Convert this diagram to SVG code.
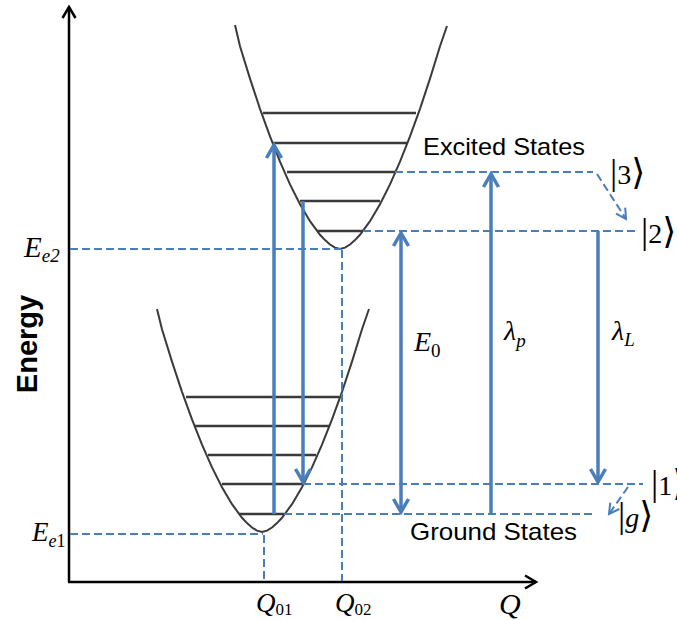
<svg xmlns="http://www.w3.org/2000/svg" width="677" height="620" viewBox="0 0 677 620">
<style>
.curve{fill:none;stroke:#3a3a3a;stroke-width:2}
.lvl{stroke:#3a3a3a;stroke-width:2.5}
.axis{stroke:#000;stroke-width:2.5;fill:none}
.dash{stroke:#4a7ebb;stroke-width:2;stroke-dasharray:8 4;fill:none}
.arr{stroke:#4a7ebb;stroke-width:3.5;fill:none}
.math{font-family:"Liberation Serif","DejaVu Serif",serif;font-style:italic;fill:#000}
.up{font-style:normal}
.lab{font-family:"Liberation Sans",Arial,sans-serif;font-size:24px;fill:#000}
.ket{font-family:"Liberation Serif","DejaVu Serif",serif;font-size:28px;fill:#000}
.br{font-size:36px}
</style>
<defs>
<marker id="ha" markerUnits="userSpaceOnUse" markerWidth="30" markerHeight="30" viewBox="-20 -15 30 30" refX="0" refY="0" orient="auto-start-reverse">
<path d="M-13,-7.5 L0,0 L-13,7.5" fill="none" stroke="#4a7ebb" stroke-width="3.5"/>
</marker>
<marker id="hd" markerUnits="userSpaceOnUse" markerWidth="24" markerHeight="24" viewBox="-16 -12 24 24" refX="0" refY="0" orient="auto">
<path d="M-10,-5.5 L0,0 L-10,5.5" fill="none" stroke="#4a7ebb" stroke-width="2"/>
</marker>
<marker id="hk" markerUnits="userSpaceOnUse" markerWidth="24" markerHeight="24" viewBox="-16 -12 24 24" refX="0" refY="0" orient="auto">
<path d="M-11,-6.5 L0,0 L-11,6.5" fill="none" stroke="#000" stroke-width="2.5"/>
</marker>
</defs>

<g id="axes">
<path class="axis" d="M69,582 L69,7" marker-end="url(#hk)"/>
<path class="axis" d="M68,582 L536,582" marker-end="url(#hk)"/>
</g>

<g id="ground-well">
<path class="curve" d="M157,309 L162,329.2 L172,361.6 L182,391.8 L192,419.4 L202,444.7 L212,467.4 L222,487.3 L232,504.2 L242,517.8 L247,523.1 L252,527.5 L257,530.6 L262,532 L267,530.6 L272,527.5 L277,523.1 L282,517.8 L292,504.2 L302,487.3 L312,467.4 L322,444.7 L332,419.4 L342,391.8 L352,361.6 L362,329.2 L369,309"/>
<line class="lvl" x1="186" y1="397" x2="339" y2="397"/>
<line class="lvl" x1="194" y1="426" x2="330" y2="426"/>
<line class="lvl" x1="208" y1="455" x2="316" y2="455"/>
<line class="lvl" x1="222" y1="484" x2="303" y2="484"/>
<line class="lvl" x1="239" y1="514" x2="284" y2="514"/>
</g>

<g id="excited-well">
<path class="curve" d="M235,25 L240,46.2 L250,78.6 L260,108.8 L270,136.4 L280,161.7 L290,184.4 L300,204.3 L310,221.2 L320,234.8 L325,240.1 L330,244.5 L335,247.6 L340,249 L345,247.6 L350,244.5 L355,240.1 L360,234.8 L370,221.2 L380,204.3 L390,184.4 L400,161.7 L410,136.4 L420,108.8 L430,78.6 L440,46.2 L447,26"/>
<line class="lvl" x1="263" y1="113" x2="416" y2="113"/>
<line class="lvl" x1="273" y1="143" x2="407" y2="143"/>
<line class="lvl" x1="287" y1="172" x2="395" y2="172"/>
<line class="lvl" x1="300" y1="201" x2="380" y2="201"/>
<line class="lvl" x1="317" y1="231" x2="363" y2="231"/>
</g>

<g id="connectors">
<path class="dash" d="M70,249 L341,249"/>
<path class="dash" d="M342,250 L342,581"/>
<path class="dash" d="M70,534 L263,534"/>
<path class="dash" d="M264,535 L264,581"/>
<path class="dash" d="M363,231 L637,231"/>
<path class="dash" d="M395,172 L593,172"/>
<path class="dash" d="M303,484 L643,484"/>
<path class="dash" d="M284,514 L593,514"/>
<path class="dash" d="M597,174 L626,219" marker-end="url(#hd)"/>
<path class="dash" d="M628,487 L609,514" marker-end="url(#hd)"/>
<path class="arr" d="M274,514 L274,145" marker-end="url(#ha)"/>
<path class="arr" d="M303,201 L303,482" marker-end="url(#ha)"/>
<path class="arr" d="M401,233 L401,512" marker-start="url(#ha)" marker-end="url(#ha)"/>
<path class="arr" d="M491,514 L491,174" marker-end="url(#ha)"/>
<path class="arr" d="M598,231 L598,482" marker-end="url(#ha)"/>
</g>

<g id="labels">
<text class="lab" x="423" y="155" textLength="162" lengthAdjust="spacingAndGlyphs">Excited States</text>
<text class="lab" x="410" y="540" textLength="167" lengthAdjust="spacingAndGlyphs">Ground States</text>
<text font-family="Liberation Sans,Arial,sans-serif" font-weight="bold" font-size="29" transform="translate(37,344) rotate(-90)" text-anchor="middle">Energy</text>
<text class="math" x="24" y="257" font-size="29">E<tspan font-size="19" dy="5">e2</tspan></text>
<text class="math" x="32" y="541" font-size="27">E<tspan font-size="18" dy="6">e<tspan class="up">1</tspan></tspan></text>
<text class="math" x="256" y="612" font-size="27">Q<tspan class="up" font-size="17" dy="3">01</tspan></text>
<text class="math" x="335" y="612" font-size="27">Q<tspan class="up" font-size="17" dy="3">02</tspan></text>
<text class="math" x="499" y="614" font-size="30">Q</text>
<text class="math" x="414" y="351" font-size="28">E<tspan class="up" font-size="19" dy="6">0</tspan></text>
<text class="math" x="504" y="340" font-size="28">λ<tspan font-size="19" dy="7">p</tspan></text>
<text class="math" x="612" y="340" font-size="28">λ<tspan font-size="19" dy="6">L</tspan></text>
<text class="ket" x="610" y="184"><tspan class="br">|</tspan>3<tspan class="br">⟩</tspan></text>
<text class="ket" x="641" y="243"><tspan class="br">|</tspan>2<tspan class="br">⟩</tspan></text>
<text class="ket" x="651" y="495"><tspan class="br">|</tspan>1<tspan class="br">⟩</tspan></text>
<text class="ket" x="618" y="527"><tspan class="br">|</tspan><tspan font-style="italic">g</tspan><tspan class="br">⟩</tspan></text>
</g>
</svg>
